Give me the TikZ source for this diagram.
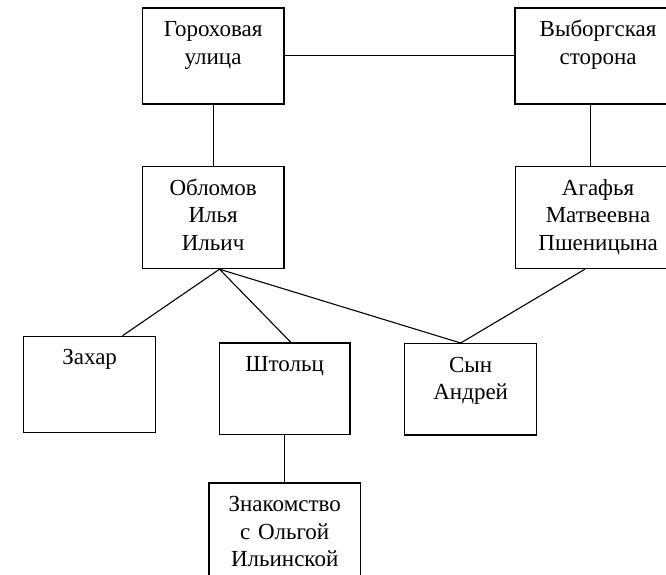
\documentclass[tikz,border=0pt]{standalone}
\usepackage{fontspec}
\setmainfont{Liberation Serif}
\usetikzlibrary{positioning}
\newcommand\boxfont{\fontsize{23pt}{27.5pt}\selectfont}

\begin{document}
\begin{tikzpicture}[
  x=1pt, y=-1pt,
  pbox/.style={draw=black, line width=1.4pt, rectangle, align=center, inner xsep=0pt, inner ysep=0pt, text height=28.5pt, font=\boxfont},
  link/.style={draw=black, line width=1.1pt},
]
\path[clip, use as bounding box] (0,0) rectangle (666,574);
\node[pbox, text width=141.8pt, text depth=67.3pt, anchor=north west] (gor) at (141.5,7.3) {Гороховая\\улица};
\node[pbox, text width=166pt, text depth=67.3pt, right=229.7pt of gor] (vyb) {Выборгская\\сторона};
\node[pbox, text width=141.8pt, text depth=73.4pt, below=61.4pt of gor] (obl) {Обломов\\Илья\\Ильич};
\node[pbox, text width=165pt, text depth=73.4pt, below=61.4pt of vyb] (aga) {Агафья\\Матвеевна\\Пшеницына};
\node[pbox, text width=132.1pt, text depth=67.5pt, anchor=north west] (zah) at (22.9,335.7) {Захар};
\node[pbox, text width=130.4pt, text depth=62.9pt, anchor=north west] (sht) at (218.8,342.3) {Штольц};
\node[pbox, text width=132pt, text depth=62.8pt, anchor=north west] (syn) at (404,343) {Сын\\Андрей};
\node[pbox, text width=151.2pt, text depth=90pt, below=47.3pt of sht] (znk) {Знакомство\\с Ольгой\\Ильинской};
\draw[link] (gor) -- (vyb);
\draw[link] (gor.south) -- (obl.north);
\draw[link] ([xshift=-7.2pt]vyb.south) -- ([xshift=-7.2pt]aga.north);
\draw[link] ([xshift=6.4pt]obl.south) -- ([xshift=32.9pt]zah.north);
\draw[link] ([xshift=6.4pt]obl.south) -- ([xshift=6.1pt]sht.north);
\draw[link] ([xshift=6.4pt]obl.south) -- ([xshift=-10pt]syn.north);
\draw[link] ([xshift=-13.2pt]aga.south) -- ([xshift=-10pt]syn.north);
\draw[link] (sht.south) -- (sht.south |- znk.north);
\end{tikzpicture}
\end{document}
